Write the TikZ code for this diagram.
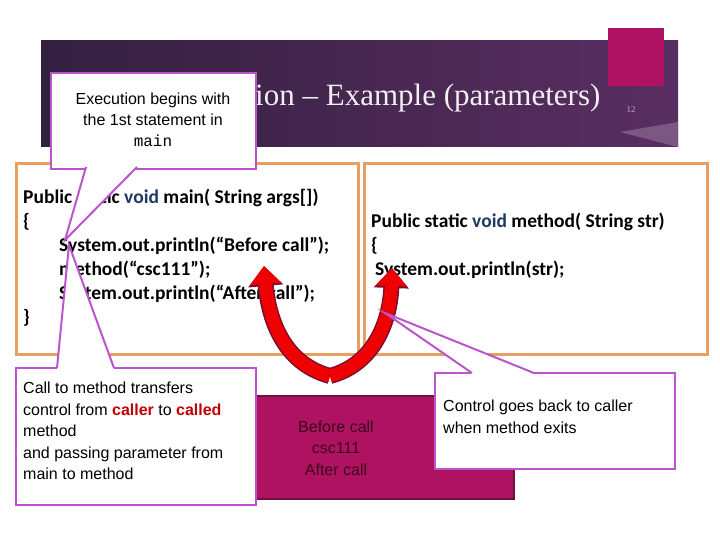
\documentclass[tikz,border=0pt]{standalone}
\usepackage{fontspec}
\setmainfont{Carlito}
\newfontfamily\arialf{Liberation Sans}
\newfontfamily\timesf{Liberation Serif}
\setmonofont{Liberation Mono}
\usetikzlibrary{arrows.meta}
\definecolor{bannerL}{HTML}{33203F}
\definecolor{bannerR}{HTML}{5A2E62}
\definecolor{boxorange}{HTML}{E8A060}
\definecolor{calloutpurple}{HTML}{BB55CC}
\definecolor{outmagenta}{HTML}{B01262}
\definecolor{outborder}{HTML}{70103F}
\definecolor{outtextcol}{HTML}{3A0A20}
\definecolor{voidblue}{HTML}{1F3864}
\definecolor{callred}{HTML}{C00000}
\definecolor{arrowred}{HTML}{EE0000}
\definecolor{arrowdark}{HTML}{7A1030}
\tikzset{
  codebox/.style={draw=boxorange,line width=3pt,fill=white,minimum width=#1,minimum height=191pt,anchor=north west,inner sep=0pt},
  code/.style={font=\bfseries\fontsize{19.5}{24}\selectfont,anchor=west,inner sep=0pt},
  callout/.style={draw=calloutpurple,line width=2pt,fill=white,anchor=north west,inner sep=0pt},
  ctext/.style={font=\arialf\fontsize{16}{21.5}\selectfont,align=left,anchor=north west,inner sep=0pt},
  bigarrow/.style={line width=13pt,draw=arrowred,-{Triangle[width=30pt,length=18pt]},
    preaction={draw=arrowdark,line width=16pt,-{Triangle[width=34pt,length=20pt]}}},
}
\begin{document}
\begin{tikzpicture}[x=1pt,y=-1pt]
\useasboundingbox (0,0) rectangle (720,540);
% banner
\shade[left color=bannerL,right color=bannerR] (41,41) rectangle (678,147);
\fill[bannerR!80!white] (620,132) -- (678,122) -- (678,147) -- cycle;
\fill[outmagenta] (608,28) rectangle (664,86);
\node[font=\timesf\fontsize{31}{31}\selectfont,text=white!92!bannerR,anchor=west,inner sep=0pt] (title) at (255,98) {ion \textendash{} Example (parameters)};
\node[font=\timesf\fontsize{9}{9}\selectfont,text=gray!60,inner sep=0pt] (pgnum) at (631,110) {12};

% code boxes
\node[codebox=342pt] (mainbox) at (15,162) {};
\node[codebox=343pt] (methbox) at (363,162) {};
\node[code] (m1) at (23,198) {Public static \textcolor{voidblue}{void} main( String args[])};
\node[code] (m2) at (23,222) {\{};
\node[code] (m3) at (59,246) {System.out.println(“Before call”);};
\node[code] (m4) at (59,270) {method(“csc111”);};
\node[code] (m5) at (59,294) {System.out.println(“After call”);};
\node[code] (m6) at (23,318) {\}};
\node[code] (s1) at (371,222) {Public static \textcolor{voidblue}{void} method( String str)};
\node[code] (s2) at (371,246) {\{};
\node[code] (s3) at (375,270) {System.out.println(str);};

% red arrows
\coordinate (bottom) at (330,376);
\coordinate (upleft) at (264,266);
\coordinate (upright) at (392,268);
\draw[bigarrow] (bottom) to[out=165,in=-85] (upleft);
\draw[bigarrow] (bottom) to[out=15,in=-92] (upright);

% output box
\node[draw=outborder,line width=2pt,fill=outmagenta,minimum width=258pt,minimum height=103pt,anchor=north west] (output) at (255,395) {};
\node[font=\arialf\fontsize{16}{21.5}\selectfont,align=center,text=outtextcol] (outtext) at (336,448) {Before call\\csc111\\After call};

% callout: execution begins
\node[callout,minimum width=205pt,minimum height=96pt] (beginbox) at (50,72) {};
\node[font=\arialf\fontsize{16}{21}\selectfont,align=center,inner sep=0pt] (begintext) at (153,120) {Execution begins with\\the 1st statement in\\{\ttfamily main}};
\coordinate (begintip) at (65,240);
\fill[white] (86,166) -- (begintip) -- (137,166) -- cycle;
\draw[calloutpurple,line width=2pt] (86,167) -- (begintip) -- (137,167);

% callout: call to method
\node[callout,minimum width=240pt,minimum height=137pt] (callbox) at (15,367) {};
\node[ctext] (calltext) at (23,382) {Call to method transfers\\control from \textbf{\textcolor{callred}{caller}} to \textbf{\textcolor{callred}{called}}\\method\\and passing parameter from\\main to method};
\coordinate (calltip) at (69,245);
\fill[white] (57,369) -- (calltip) -- (114,369) -- cycle;
\draw[calloutpurple,line width=2pt] (57,368) -- (calltip) -- (114,368);

% callout: control back
\node[callout,minimum width=240pt,minimum height=96pt] (backbox) at (434,372) {};
\node[ctext] (backtext) at (443,400) {Control goes back to caller\\when method exits};
\coordinate (backtip) at (385,313);
\fill[white] (472,374) -- (backtip) -- (534,374) -- cycle;
\draw[calloutpurple,line width=2pt] (472,373) -- (backtip) -- (534,373);
\end{tikzpicture}
\end{document}
